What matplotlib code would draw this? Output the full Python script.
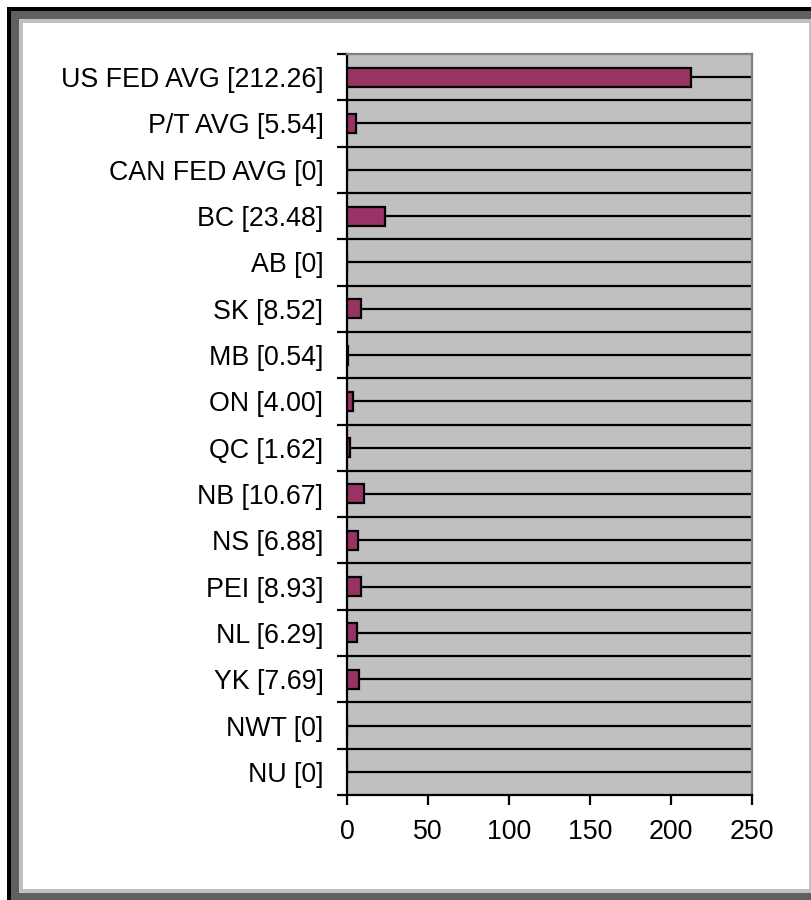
import numpy as np
import matplotlib
matplotlib.use('Agg')
import matplotlib.pyplot as plt
from matplotlib.patches import Rectangle

names = ['US FED AVG', 'P/T AVG', 'CAN FED AVG', 'BC', 'AB', 'SK', 'MB', 'ON',
         'QC', 'NB', 'NS', 'PEI', 'NL', 'YK', 'NWT', 'NU']
values = [212.26, 5.54, 0, 23.48, 0, 8.52, 0.54, 4.00,
          1.62, 10.67, 6.88, 8.93, 6.29, 7.69, 0, 0]
xticks = [0, 50, 100, 150, 200, 250]

labels = []
for n, v in zip(names, values):
    txt = '0' if v == 0 else '%.2f' % v
    labels.append('%s [%s]' % (n, txt))

plt.rcParams['font.family'] = ['Liberation Sans', 'DejaVu Sans']

W, H = 812, 900
fig = plt.figure(figsize=(W / 100, H / 100), dpi=100)
fig.patch.set_facecolor('white')

def px_rect(x0, y0, x1, y1, color):
    # pixel box (top-left origin) -> figure fraction
    r = Rectangle((x0 / W, 1 - y1 / H), (x1 - x0) / W, (y1 - y0) / H,
                  transform=fig.transFigure, facecolor=color, edgecolor='none', zorder=-10)
    fig.patches.append(r)

# frame around the chart
px_rect(7, 7, W + 5, H + 5, 'black')
px_rect(11, 11, W + 5, H + 5, '#606060')
px_rect(19, 19, W, 893, '#c0c0c0')
px_rect(23, 23, 809, 889, 'white')

ax = fig.add_axes([347 / W, 1 - 795 / H, (752 - 347) / W, (795 - 54) / H])
ax.set_facecolor('#c0c0c0')

y = np.arange(len(names))
n = len(names)

# black lines at category borders and centres
for k in range(1, 2 * n):
    ax.axhline(-0.5 + k * 0.5, color='black', lw=1.6, zorder=1)

ax.barh(y, values, height=0.41, color='#993366', edgecolor='black', lw=1.6, zorder=3)

ax.set_xlim(0, 250)
ax.set_ylim(n - 0.5, -0.5)
ax.set_xticks(xticks)
ax.tick_params(axis='x', direction='out', length=7.5, width=1.6, pad=10, labelsize=19.3)

ax.set_yticks(np.arange(-0.5, n, 1.0))
ax.set_yticklabels([])
ax.set_yticks(y, minor=True)
ax.set_yticklabels(labels, minor=True)
ax.tick_params(axis='y', which='major', direction='out', length=7.5, width=1.6)
ax.tick_params(axis='y', which='minor', length=0, pad=17, labelsize=19.3)

for s in ['left', 'bottom']:
    ax.spines[s].set_color('black')
    ax.spines[s].set_linewidth(1.6)
for s in ['top', 'right']:
    ax.spines[s].set_color('#808080')
    ax.spines[s].set_linewidth(1.6)

plt.savefig('out.png', dpi=100)
